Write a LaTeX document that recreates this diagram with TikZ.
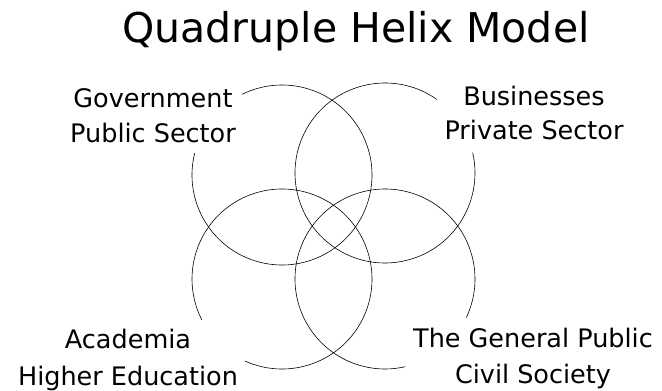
\documentclass[tikz,border=0pt]{standalone}
\usepackage{fontspec}
\setmainfont{DejaVu Sans}

\begin{document}
\begin{tikzpicture}[x=1pt,y=1pt,
  helix/.style={draw=drawColor,line width=0.6pt},
  lbl/.style={text=drawColor,anchor=base,inner sep=0pt,outer sep=0pt,font=\fontsize{25.5}{30}\selectfont}]
\definecolor{fillColor}{RGB}{255,255,255}
\definecolor{drawColor}{RGB}{0,0,0}
\path[use as bounding box,fill=fillColor] (0,0) rectangle (662,391);

\node[text=drawColor,anchor=base,inner sep=0pt,outer sep=0pt,font=\fontsize{41}{48}\selectfont] (title) at (356,348) {Quadruple Helix Model};

% circle centres
\coordinate (gov) at (282,216);
\coordinate (bus) at (385,218);
\coordinate (aca) at (282,112);
\coordinate (pub) at (385,112);

\path[helix] (gov) ++(166:90) arc[start angle=166,end angle=476.3,radius=90];

\path[helix] (bus) ++(54.8:90) arc[start angle=54.8,end angle=373.1,radius=90];

\path[helix] (aca) ++(245.7:90) arc[start angle=245.7,end angle=567,radius=90];

\path[helix] (pub) ++(334.6:90) arc[start angle=334.6,end angle=643,radius=90];

\node[lbl] (govA) at (153,283) {Government};
\node[lbl] (govB) at (153,248) {Public Sector};

\node[lbl] (busA) at (534,285) {Businesses};
\node[lbl] (busB) at (534,251) {Private Sector};

\node[lbl] (acaA) at (128,42) {Academia};
\node[lbl] (acaB) at (128,5) {Higher Education};

\node[lbl] (pubA) at (533,43) {The General Public};
\node[lbl] (pubB) at (533,7) {Civil Society};
\end{tikzpicture}
\end{document}
